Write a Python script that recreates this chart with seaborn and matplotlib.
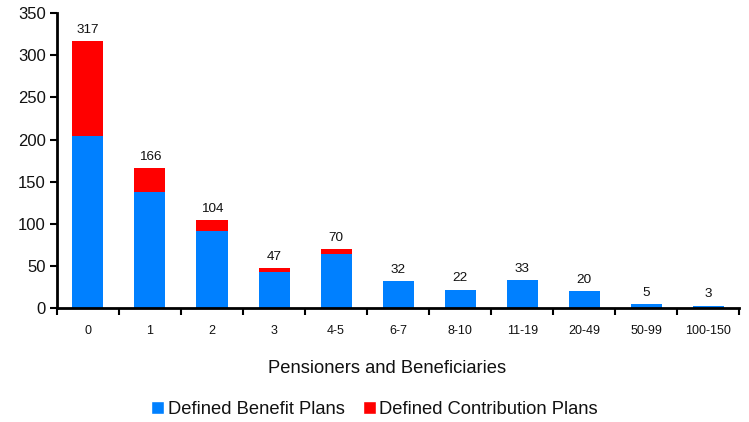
import matplotlib
matplotlib.use("Agg")
import matplotlib.pyplot as plt
from matplotlib.patches import Patch
import seaborn as sns
import pandas as pd
import numpy as np

categories = ["0", "1", "2", "3", "4-5", "6-7", "8-10", "11-19", "20-49", "50-99", "100-150"]
totals = [317, 166, 104, 47, 70, 32, 22, 33, 20, 5, 3]
defined_benefit = [204, 138, 91, 43, 64, 32, 22, 33, 20, 5, 3]
defined_contribution = [t - b for t, b in zip(totals, defined_benefit)]

BLUE = "#0080FF"
RED = "#FF0000"

sns.set_theme(style="white")
plt.rcParams["font.family"] = ["Liberation Sans", "DejaVu Sans"]

df = pd.DataFrame({"group": categories, "total": totals, "db": defined_benefit})

fig = plt.figure(figsize=(7.49, 4.22), dpi=100)
ax = fig.add_axes([0.076, 0.27, 0.911, 0.699])

# Stack: full total in red, benefit portion overlaid in blue
sns.barplot(data=df, x="group", y="total", color=RED, width=0.5,
            saturation=1, ax=ax, order=categories, linewidth=0)
sns.barplot(data=df, x="group", y="db", color=BLUE, width=0.5,
            saturation=1, ax=ax, order=categories, linewidth=0)

for i, t in enumerate(totals):
    ax.text(i, t + 6, str(t), ha="center", va="bottom", fontsize=9.7, color="#111111")

ax.set_xlim(-0.5, len(categories) - 0.5)
ax.set_ylim(0, 350)
ax.set_yticks(np.arange(0, 351, 50))
ax.tick_params(axis="y", labelsize=12, length=5, width=1.5, direction="out",
               left=True, color="black", pad=3, labelcolor="#111111")
ax.set_xticks(np.arange(len(categories)))
ax.set_xticklabels(categories)
ax.set_xticks(np.arange(-0.5, len(categories)), minor=True)
ax.tick_params(axis="x", which="major", length=0, labelsize=9, pad=12, labelcolor="#111111")
ax.tick_params(axis="x", which="minor", length=5, width=1.5, direction="out",
               bottom=True, color="black")

for side in ["top", "right"]:
    ax.spines[side].set_visible(False)
for side in ["left", "bottom"]:
    ax.spines[side].set_color("black")
    ax.spines[side].set_linewidth(2)

ax.set_ylabel("")
ax.set_xlabel("Pensioners and Beneficiaries", fontsize=13.2, color="#111111")
ax.xaxis.set_label_coords(0.484, -0.175)

handles = [Patch(facecolor=BLUE, label="Defined Benefit Plans"),
           Patch(facecolor=RED, label="Defined Contribution Plans")]
fig.legend(handles=handles, loc="center", bbox_to_anchor=(0.5, 0.03), ncol=2,
           frameon=False, fontsize=13.2, handlelength=0.7, handleheight=0.7,
           handletextpad=0.2, columnspacing=1.0, labelcolor="#111111")

fig.savefig("out.png", dpi=100)
